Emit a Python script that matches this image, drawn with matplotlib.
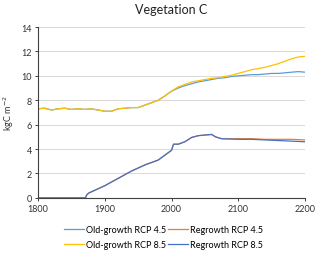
import matplotlib
matplotlib.use('Agg')
import matplotlib.pyplot as plt

plt.rcParams['font.family'] = ['Lato', 'DejaVu Sans']

# old-growth, every 10 years 1800-2200
anos_og = list(range(1800, 2201, 10))
og_45 = [7.3, 7.35, 7.2, 7.3, 7.35, 7.25, 7.3, 7.25, 7.3, 7.2,
         7.1, 7.1, 7.3, 7.35, 7.4, 7.4, 7.6, 7.8, 8.0, 8.35,
         8.75, 9.0, 9.2, 9.35, 9.5, 9.6, 9.7, 9.8, 9.85, 9.95,
         10.0, 10.05, 10.1, 10.1, 10.15, 10.2, 10.2, 10.25, 10.3, 10.35, 10.3]
og_85 = [7.3, 7.35, 7.2, 7.3, 7.35, 7.25, 7.3, 7.25, 7.3, 7.2,
         7.1, 7.1, 7.3, 7.35, 7.4, 7.4, 7.6, 7.8, 8.0, 8.35,
         8.75, 9.1, 9.3, 9.5, 9.6, 9.7, 9.8, 9.85, 9.95, 10.05,
         10.2, 10.35, 10.5, 10.6, 10.7, 10.85, 11.0, 11.2, 11.4, 11.55, 11.6]

# regrowth
anos_rg = [1800, 1871, 1873, 1876, 1880, 1890, 1900, 1910, 1920, 1930, 1940,
           1950, 1960, 1970, 1980, 1990, 2000, 2003, 2010, 2020, 2030, 2040,
           2050, 2060, 2066, 2075, 2100, 2120, 2140, 2160, 2180, 2200]
rg_45 = [0, 0, 0.25, 0.4, 0.5, 0.75, 1.0, 1.3, 1.6, 1.9, 2.2,
         2.45, 2.7, 2.9, 3.1, 3.5, 3.9, 4.4, 4.4, 4.6, 4.95, 5.1,
         5.15, 5.2, 5.0, 4.85, 4.85, 4.85, 4.8, 4.8, 4.8, 4.75]
rg_85 = [0, 0, 0.25, 0.4, 0.5, 0.75, 1.0, 1.3, 1.6, 1.9, 2.2,
         2.45, 2.7, 2.9, 3.1, 3.5, 3.9, 4.4, 4.4, 4.6, 4.95, 5.1,
         5.15, 5.2, 5.0, 4.85, 4.8, 4.8, 4.75, 4.7, 4.65, 4.6]

fig = plt.figure(figsize=(3.2, 2.55), dpi=100)
ax = fig.add_axes([0.119, 0.22, 0.834, 0.67])

l1, = ax.plot(anos_og, og_45, color='#5B9BD5', lw=0.9, label='Old-growth RCP 4.5')
l2, = ax.plot(anos_rg, rg_45, color='#ED7D31', lw=0.9, label='Regrowth RCP 4.5')
l3, = ax.plot(anos_og, og_85, color='#FFC000', lw=0.9, label='Old-growth RCP 8.5')
l4, = ax.plot(anos_rg, rg_85, color='#4472C4', lw=0.9, label='Regrowth RCP 8.5')

ax.set_xlim(1800, 2200)
ax.set_ylim(0, 14)
ax.set_xticks(range(1800, 2201, 100))
ax.set_yticks(range(0, 15, 2))
ax.grid(axis='y', color='#D9D9D9', lw=0.7)
ax.set_axisbelow(True)
for s in ['top', 'right']:
    ax.spines[s].set_visible(False)
ax.spines['left'].set_color('#404040')
ax.spines['bottom'].set_color('#404040')
ax.tick_params(labelsize=6.5, length=2.5, width=0.7, colors='#404040', labelcolor='#333333', pad=2)

ax.set_title('Vegetation C', fontsize=9, pad=10, color='#222222')
ax.set_ylabel('kgC m$^{-2}$', fontsize=6.5, color='#333333', labelpad=4)

ax.legend(handles=[l1, l3, l2, l4], ncol=2, loc='upper center',
          bbox_to_anchor=(0.47, -0.14), frameon=False, fontsize=6.5,
          handlelength=2.2, handletextpad=0.2, columnspacing=0.3,
          labelspacing=0.6, borderaxespad=0)

fig.savefig('out.png', dpi=100)
